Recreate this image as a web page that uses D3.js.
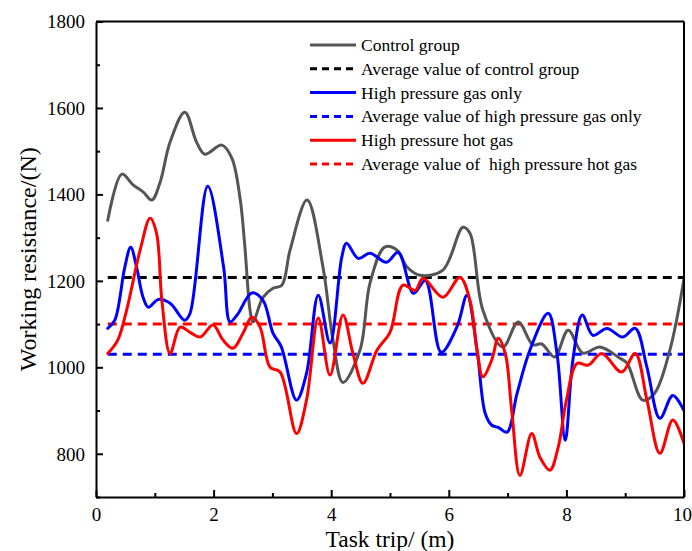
<!DOCTYPE html>
<html>
<head>
<meta charset="utf-8">
<script src="https://cdn.jsdelivr.net/npm/d3@7"></script>
<style>
  body { margin: 0; background: #fff; }
  svg { display: block; font-family: "Liberation Serif", "Times New Roman", serif; }
  .keep-spaces { white-space: pre; }
</style>
</head>
<body>
<svg id="chart" width="692" height="551"></svg>
<script>
// Working resistance along the task trip for three treatments
const controlX = [0.2,0.44,0.63,0.8,0.95,1.09,1.26,1.51,1.71,1.85,2.14,2.31,2.45,2.53,2.62,2.67,2.84,3.01,3.16,3.3,3.59,3.86,4.03,4.2,4.49,4.66,4.91,5.12,5.29,5.51,5.9,6.24,6.36,6.58,6.92,7.18,7.43,7.58,7.8,8.03,8.28,8.57,8.91,9.03,9.3,9.5,9.76,10.0];
const controlY = [1340,1447,1422,1406,1387,1428,1521,1590,1521,1493,1514,1484,1391,1282,1132,1105,1162,1183,1190,1271,1387,1232,1063,965,1040,1195,1278,1271,1232,1213,1225,1324,1310,1132,1047,1105,1052,1054,1024,1086,1033,1047,1021,1010,924,940,1040,1205];

const gasX = [0.2,0.32,0.49,0.59,0.69,0.8,0.89,1.06,1.26,1.51,1.6,1.9,2.17,2.28,2.4,2.65,2.84,3.01,3.15,3.41,3.58,3.78,3.98,4.18,4.26,4.46,4.66,4.94,5.14,5.4,5.6,5.87,6.14,6.31,6.48,6.62,6.73,6.84,6.99,7.16,7.38,7.69,7.84,7.98,8.11,8.27,8.45,8.69,8.96,9.17,9.37,9.59,9.81,10.0];
const gasY = [1090,1109,1232,1278,1232,1162,1139,1157,1148,1109,1125,1419,1232,1105,1121,1172,1155,1079,1048,924,986,1167,1056,1255,1287,1252,1264,1243,1266,1171,1201,1035,1094,1167,1040,893,866,861,850,939,1040,1125,1032,831,1017,1121,1074,1090,1070,1090,1000,882,935,900];

const hotX = [0.2,0.37,0.52,0.75,0.92,1.03,1.12,1.26,1.43,1.6,1.77,1.99,2.16,2.33,2.5,2.65,2.79,2.96,3.13,3.41,3.58,3.78,3.98,4.2,4.37,4.54,4.78,5.0,5.22,5.43,5.56,5.9,6.19,6.36,6.48,6.58,6.73,6.84,6.96,7.07,7.21,7.41,7.55,7.72,7.86,8.0,8.18,8.37,8.6,8.94,9.17,9.37,9.59,9.81,10.0];
const hotY = [1032,1063,1132,1271,1345,1310,1155,1032,1093,1081,1070,1098,1063,1044,1079,1116,1093,1000,989,847,924,1114,982,1121,1032,963,1040,1081,1190,1178,1206,1162,1208,1155,1040,978,1017,1067,1032,900,750,847,792,762,815,924,1009,1005,1032,989,1032,924,801,878,824];

const averageValues = [1208, 1030, 1100];

const xTicks = [0, 2, 4, 6, 8, 10];
const yTicks = [800, 1000, 1200, 1400, 1600, 1800];

const legendLabels = [
  "Control group",
  "Average value of control group",
  "High pressure gas only",
  "Average value of high pressure gas only",
  "High pressure hot gas",
  "Average value of  high pressure hot gas"
];

const colors = { control: "#555555", controlAvg: "#000000", gas: "#0000ff", hot: "#ff0000" };

const svg = d3.select("#chart");
const margin = { left: 96, right: 8, top: 21.5, bottom: 54 };
const W = 692, H = 551;

const x = d3.scaleLinear().domain([0, 10]).range([margin.left, W - margin.right]);
const y = d3.scaleLinear().domain([700, 1800]).range([H - margin.bottom, margin.top]);

const plot = svg.append("g");

// clip curves to the frame
svg.append("clipPath").attr("id", "clip").append("rect")
  .attr("x", x(0)).attr("y", y(1800)).attr("width", x(10) - x(0)).attr("height", y(700) - y(1800));

const line = d3.line().x(d => x(d[0])).y(d => y(d[1])).curve(d3.curveCatmullRom.alpha(0.5));
const zip = (a, b) => a.map((v, i) => [v, b[i]]);

const avgSeries = [
  { v: averageValues[0], c: colors.controlAvg },
  { v: averageValues[1], c: colors.gas },
  { v: averageValues[2], c: colors.hot }
];
const curves = [
  { d: zip(controlX, controlY), c: colors.control },
  { d: zip(gasX, gasY), c: colors.gas },
  { d: zip(hotX, hotY), c: colors.hot }
];

const g = plot.append("g").attr("clip-path", "url(#clip)");

avgSeries.forEach(a => {
  g.append("line")
    .attr("x1", x(0.2)).attr("x2", x(10))
    .attr("y1", y(a.v)).attr("y2", y(a.v))
    .attr("stroke", a.c).attr("stroke-width", 3)
    .attr("stroke-dasharray", "9,6");
});

curves.forEach(s => {
  g.append("path").datum(s.d)
    .attr("d", line)
    .attr("fill", "none").attr("stroke", s.c)
    .attr("stroke-width", 3).attr("stroke-linejoin", "round").attr("stroke-linecap", "round");
});

// axes with inward ticks
const xAxis = d3.axisBottom(x).tickValues(d3.range(0, 11, 1)).tickSizeInner(-7).tickSizeOuter(0)
  .tickFormat(d => xTicks.includes(d) ? d : "");
const yAxis = d3.axisLeft(y).tickValues(d3.range(700, 1801, 100)).tickSizeInner(-7).tickSizeOuter(0)
  .tickFormat(d => yTicks.includes(d) ? d : "");

const gx = svg.append("g").attr("transform", `translate(0,${y(700)})`).call(xAxis);
const gy = svg.append("g").attr("transform", `translate(${x(0)},0)`).call(yAxis);
[gx, gy].forEach(a => {
  a.select(".domain").attr("stroke", "#000").attr("stroke-width", 2);
  a.selectAll(".tick line").attr("stroke", "#000").attr("stroke-width", 2);
  a.selectAll(".tick text").attr("font-family", "Liberation Serif").attr("font-size", 19).attr("fill", "#000");
});
gx.selectAll(".tick text").attr("y", 6).attr("dy", "0.95em");
gx.selectAll(".tick").filter(d => d === 10).select("text").attr("x", -2);
gy.selectAll(".tick text").attr("x", -11).attr("dy", "0.33em");
// minor ticks shorter
gx.selectAll(".tick").filter(d => !xTicks.includes(d)).select("line").attr("y2", -4);
gy.selectAll(".tick").filter(d => !yTicks.includes(d)).select("line").attr("x2", 4);

// top and right frame
svg.append("line").attr("x1", x(0)).attr("x2", x(10)).attr("y1", y(1800)).attr("y2", y(1800))
  .attr("stroke", "#000").attr("stroke-width", 2);
svg.append("line").attr("x1", x(10)).attr("x2", x(10)).attr("y1", y(1800)).attr("y2", y(700))
  .attr("stroke", "#000").attr("stroke-width", 2);

// axis titles
svg.append("text").attr("x", (x(0) + x(10)) / 2).attr("y", 547)
  .attr("text-anchor", "middle").attr("font-size", 23.5).text("Task trip/ (m)");
svg.append("text").attr("transform", `translate(36,${(y(700) + y(1800)) / 2}) rotate(-90)`)
  .attr("text-anchor", "middle").attr("font-size", 24).text("Working resistance/(N)");

// legend
const legendStyles = [
  { c: colors.control, dash: null },
  { c: colors.controlAvg, dash: "7,5" },
  { c: colors.gas, dash: null },
  { c: colors.gas, dash: "7,5" },
  { c: colors.hot, dash: null },
  { c: colors.hot, dash: "7,5" }
];
const lg = svg.append("g").attr("transform", "translate(310,45)");
legendLabels.forEach((t, i) => {
  const row = lg.append("g").attr("transform", `translate(0,${i * 23.8})`);
  row.append("line").attr("x1", 0).attr("x2", 46).attr("y1", 0).attr("y2", 0)
    .attr("stroke", legendStyles[i].c).attr("stroke-width", 3)
    .attr("stroke-dasharray", legendStyles[i].dash);
  row.append("text").attr("class", "keep-spaces").attr("x", 51).attr("y", 6)
    .attr("font-size", 17.5).text(t);
});
</script>
</body>
</html>
